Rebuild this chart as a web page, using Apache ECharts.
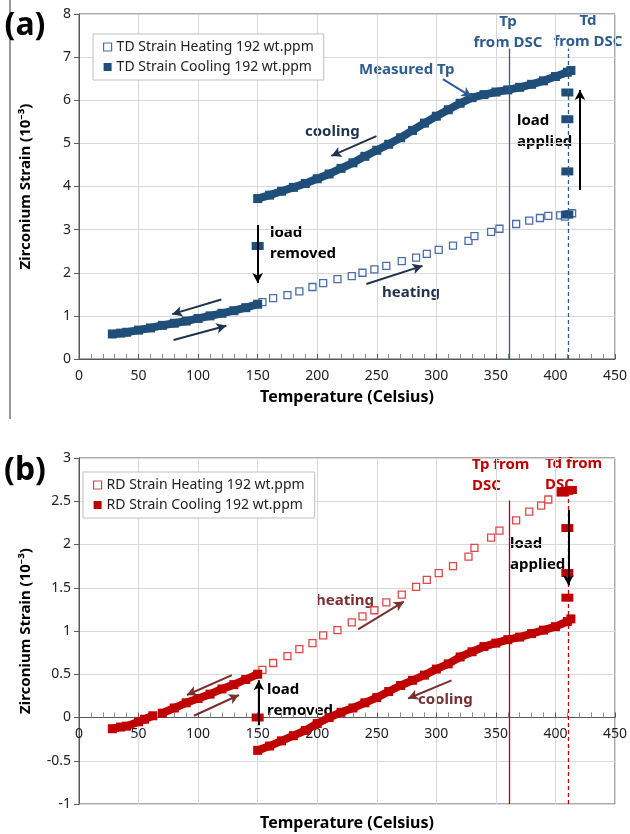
<!DOCTYPE html>
<html>
<head>
<meta charset="utf-8">
<script src="https://cdn.jsdelivr.net/npm/echarts@6/dist/echarts.min.js"></script>
<style>
  html, body { margin: 0; padding: 0; background: #fff; }
  #chart { width: 630px; height: 834px; }
</style>
</head>
<body>
<div id="chart"></div>
<script>
// axis ranges
const tempMin = 0, tempMax = 450, tempStep = 50;
const tdMin = 0, tdMax = 8, tdStep = 1;
const rdMin = -1, rdMax = 3, rdStep = 0.5;

// (a) TD strain
const tdHeating = [[154,1.32],[163,1.41],[175,1.48],[185,1.57],[196,1.67],[205,1.76],[217,1.85],[229,1.92],[238,2.0],[248,2.08],[258,2.16],[271,2.27],[283,2.35],[292,2.44],[302,2.53],[314,2.63],[327,2.74],[332,2.85],[346,2.95],[353,3.02],[367,3.13],[378,3.21],[387,3.27],[394,3.32],[404,3.33],[408,3.3],[411,3.36],[414,3.38]];
const tdCoolHigh = [[150,3.72],[160,3.8],[170,3.89],[180,3.98],[190,4.07],[200,4.18],[210,4.29],[220,4.42],[230,4.55],[240,4.7],[250,4.84],[260,4.98],[270,5.13],[280,5.3],[290,5.47],[300,5.63],[310,5.78],[320,5.93],[330,6.06],[340,6.13],[350,6.19],[360,6.24],[370,6.3],[380,6.37],[390,6.45],[400,6.55],[410,6.65],[413,6.69]];
const tdCoolLow = [[28,0.58],[35,0.6],[40,0.62],[50,0.67],[60,0.72],[70,0.78],[80,0.83],[90,0.88],[100,0.94],[110,1.0],[120,1.06],[130,1.12],[140,1.19],[150,1.27]];
const tdLoadSteps = [[410,3.35],[410,4.35],[410,5.56],[410,6.18],[150,2.62]];

// (b) RD strain
const rdHeating = [[154,0.55],[163,0.63],[175,0.71],[185,0.79],[196,0.86],[205,0.95],[217,1.01],[229,1.1],[238,1.17],[248,1.24],[258,1.33],[271,1.42],[283,1.51],[292,1.59],[302,1.67],[314,1.75],[327,1.86],[332,1.96],[346,2.08],[353,2.16],[367,2.28],[378,2.38],[388,2.45],[394,2.52]];
const rdCoolHigh = [[150,-0.38],[160,-0.33],[170,-0.27],[180,-0.21],[190,-0.15],[200,-0.07],[210,0.0],[220,0.06],[230,0.11],[240,0.17],[250,0.23],[260,0.3],[270,0.37],[280,0.43],[290,0.49],[300,0.56],[310,0.62],[320,0.7],[330,0.76],[340,0.82],[350,0.86],[360,0.9],[370,0.93],[380,0.97],[390,1.01],[400,1.05],[410,1.11],[413,1.14]];
const rdCoolLowA = [[28,-0.13],[35,-0.11],[40,-0.1],[50,-0.05],[55,-0.02],[62,0.02]];
const rdCoolLowB = [[70,0.05],[80,0.11],[90,0.17],[100,0.22],[110,0.27],[120,0.33],[130,0.38],[140,0.44],[150,0.5]];
const rdLoadSteps = [[406,2.6],[410,2.62],[413,2.63],[410,2.19],[410,1.67],[410,1.385],[150,0.0]];

// DSC temperatures
const tpDSC = 361, tdDSC = 410.8;

const names = {
  tdH: "TD Strain Heating 192 wt.ppm",
  tdC: "TD Strain Cooling 192 wt.ppm",
  rdH: "RD Strain Heating 192 wt.ppm",
  rdC: "RD Strain Cooling 192 wt.ppm",
};

const blue = "#1f4e79", blueLight = "#4a6fa8", blueText = "#2e5b90", navy = "#1f3350";
const red = "#c00000", redLight = "#e04848", brown = "#7a3030";
const font = "'Noto Sans', 'Open Sans', sans-serif";

const gridA = { left: 79, top: 14, width: 536, height: 345 };
const gridB = { left: 79, top: 458, width: 536, height: 346 };
// x axis of (b) sits at strain 0
const zeroOffsetB = -gridB.height * (0 - rdMin) / (rdMax - rdMin);

function xAxisCfg(gridIndex, name, offset) {
  return {
    type: "value", gridIndex: gridIndex, min: tempMin, max: tempMax, interval: tempStep,
    name: name, nameLocation: "middle", nameGap: 30, offset: offset,
    nameTextStyle: { fontFamily: font, fontWeight: "bold", fontSize: 16, color: "#000" },
    axisLine: { onZero: false, lineStyle: { color: "#595959" } },
    axisTick: { inside: true, length: 5, lineStyle: { color: "#595959" } },
    minorTick: { show: true, splitNumber: 5, length: 5, lineStyle: { color: "#8c8c8c" } },
    axisLabel: { fontFamily: font, fontSize: 14, color: "#222", margin: 10 },
    splitLine: { show: true, lineStyle: { color: "#d9d9d9" } },
  };
}
function yAxisCfg(gridIndex, min, max, step) {
  return {
    type: "value", gridIndex: gridIndex, min: min, max: max, interval: step,
    name: "Zirconium Strain (10⁻³)", nameLocation: "middle", nameGap: 46,
    nameTextStyle: { fontFamily: font, fontWeight: "bold", fontSize: 15, color: "#000" },
    axisLine: { show: true, onZero: false, lineStyle: { color: "#595959" } },
    axisTick: { show: true, length: 5, lineStyle: { color: "#595959" } },
    axisLabel: { fontFamily: font, fontSize: 14, color: "#222", margin: 8 },
    splitLine: { show: true, lineStyle: { color: "#d9d9d9" } },
  };
}
function heating(name, idx, data, color) {
  return {
    name: name, type: "scatter", xAxisIndex: idx, yAxisIndex: idx, data: data,
    symbol: "rect", symbolSize: 7,
    itemStyle: { color: "#fff", borderColor: color, borderWidth: 1.3, opacity: 1 },
  };
}
function cooling(name, idx, data, color) {
  return {
    name: name, type: "line", xAxisIndex: idx, yAxisIndex: idx, data: data,
    symbol: "rect", symbolSize: 9, showSymbol: true,
    lineStyle: { color: color, width: 8 }, itemStyle: { color: color },
  };
}
function steps(name, idx, data, color) {
  return {
    name: name, type: "scatter", xAxisIndex: idx, yAxisIndex: idx, data: data,
    symbol: "rect", symbolSize: [12, 8], itemStyle: { color: color, opacity: 1 },
  };
}
function seg(a, b, color, width, type) {
  return [{ coord: a, lineStyle: { color: color, width: width, type: type || "solid" } }, { coord: b }];
}
function marks(idx, lines, arrows) {
  return [
    {
      type: "line", xAxisIndex: idx, yAxisIndex: idx, data: [], silent: true,
      markLine: { silent: true, symbol: ["none", "none"], label: { show: false }, data: lines },
    },
    {
      type: "line", xAxisIndex: idx, yAxisIndex: idx, data: [], silent: true,
      markLine: { silent: true, symbol: ["none", "arrow"], symbolSize: [8, 10], label: { show: false }, data: arrows },
    },
  ];
}
function txt(text, x, y, color, size, align) {
  return {
    type: "text", x: x, y: y, silent: true,
    style: {
      text: text, fill: color, font: "bold " + (size || 15) + "px " + font,
      textAlign: align || "left", textVerticalAlign: "middle", lineHeight: 21,
    },
  };
}
function legendCfg(left, top, hName, cName, hColor) {
  return {
    orient: "vertical", left: left, top: top, itemGap: 6, itemWidth: 8, itemHeight: 8,
    backgroundColor: "#fff", borderColor: "#bfbfbf", borderWidth: 1, padding: [6, 10, 6, 10],
    textStyle: { fontFamily: font, fontSize: 14, color: "#222" },
    data: [
      { name: hName, icon: "rect", itemStyle: { color: "#fff", borderColor: hColor, borderWidth: 1.2 } },
      { name: cName, icon: "rect" },
    ],
  };
}

const chart = echarts.init(document.getElementById("chart"), null, { renderer: "canvas" });

const gridStyle = { show: true, borderColor: "#595959", borderWidth: 1, backgroundColor: "transparent" };

const option = {
  animation: false,
  backgroundColor: "#fff",
  grid: [Object.assign({}, gridA, gridStyle), Object.assign({}, gridB, gridStyle)],
  legend: [
    legendCfg(93, 34, names.tdH, names.tdC, blueLight),
    legendCfg(83, 472, names.rdH, names.rdC, redLight),
  ],
  xAxis: [xAxisCfg(0, "Temperature (Celsius)", 0), xAxisCfg(1, "", zeroOffsetB)],
  yAxis: [yAxisCfg(0, tdMin, tdMax, tdStep), yAxisCfg(1, rdMin, rdMax, rdStep)],
  series: [
    heating(names.tdH, 0, tdHeating, blueLight),
    cooling(names.tdC, 0, tdCoolHigh, blue),
    cooling(names.tdC, 0, tdCoolLow, blue),
    steps(names.tdC, 0, tdLoadSteps, blue),
    ...marks(0,
      [
        seg([tpDSC, 0], [tpDSC, 7.2], blueText, 1.3),
        seg([tdDSC, 0], [tdDSC, 7.2], blueText, 1.3, [4, 3]),
      ],
      [
        seg([305.5, 6.49], [329.6, 6.08], blueText, 2),
        seg([249.7, 5.17], [211.9, 4.71], navy, 2),
        seg([420.6, 3.92], [420.6, 6.24], "#000", 2),
        seg([150, 3.11], [150, 1.76], "#000", 2),
        seg([241.3, 1.74], [288.4, 2.16], navy, 2),
        seg([119.5, 1.38], [78.3, 1.04], navy, 2),
        seg([79.4, 0.44], [123.7, 0.77], navy, 2),
      ]),
    heating(names.rdH, 1, rdHeating, redLight),
    cooling(names.rdC, 1, rdCoolHigh, red),
    cooling(names.rdC, 1, rdCoolLowA, red),
    cooling(names.rdC, 1, rdCoolLowB, red),
    steps(names.rdC, 1, rdLoadSteps, red),
    ...marks(1,
      [
        seg([tpDSC, rdMin], [tpDSC, 2.51], red, 1.3),
        seg([tdDSC, rdMin], [tdDSC, 2.6], red, 1.3, [4, 3]),
      ],
      [
        seg([410.8, 2.4], [410.8, 1.53], "#000", 2),
        seg([234.3, 1.02], [272.7, 1.34], brown, 2),
        seg([312.8, 0.43], [276.3, 0.22], brown, 2),
        seg([151, -0.09], [151, 0.43], "#000", 2),
        seg([128.4, 0.49], [90.6, 0.26], brown, 2),
        seg([96.5, 0.02], [134.3, 0.26], brown, 2),
      ]),
  ],
  graphic: [
    { type: "line", silent: true, shape: { x1: 10, y1: 0, x2: 10, y2: 419 }, style: { stroke: "#333", lineWidth: 1 } },
    txt("(a)", 25, 26, "#000", 32, "center"),
    txt("(b)", 25, 471, "#000", 32, "center"),
    txt("Tp\nfrom DSC", 508, 32, blueText, 15, "center"),
    txt("Td\nfrom DSC", 588, 31, blueText, 15, "center"),
    txt("Measured Tp", 359, 70, blueText, 15),
    txt("cooling", 305, 132, navy, 15),
    txt("load\napplied", 517, 131, "#000", 15),
    txt("load\nremoved", 270, 243, "#000", 15),
    txt("heating", 382, 293, navy, 15),
    txt("Tp from\nDSC", 472, 475, red, 15),
    txt("Td from\nDSC", 545, 474, red, 15),
    txt("load\napplied", 510, 554, "#000", 15),
    txt("heating", 316, 601, brown, 15),
    txt("cooling", 418, 700, brown, 15),
    txt("load\nremoved", 267, 700, "#000", 15),
    txt("Temperature (Celsius)", 347, 823, "#000", 16, "center"),
  ],
};

chart.setOption(option);
window.onresize = chart.resize;
</script>
</body>
</html>
